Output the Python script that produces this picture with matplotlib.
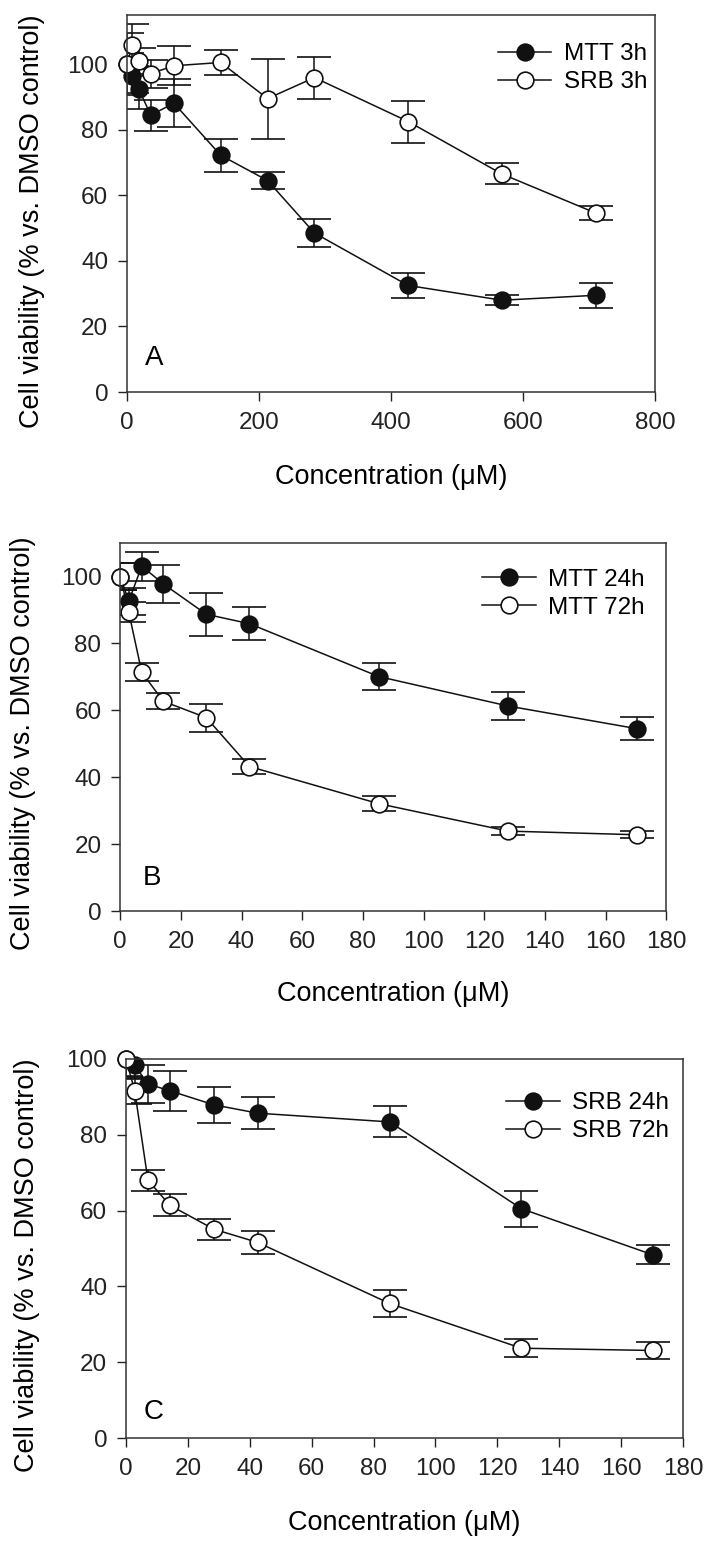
import numpy as np
import matplotlib
matplotlib.use("Agg")
import matplotlib.pyplot as plt

plt.rcParams['font.family'] = ['Liberation Sans', 'DejaVu Sans']

# Panel A: 3 h exposure
conc_a = [0, 8, 18, 36, 71, 142, 213, 284, 426, 568, 710]
mtt_3h = [100, 96.3, 92.4, 84.4, 88.1, 72.2, 64.5, 48.5, 32.5, 28.0, 29.5]
mtt_3h_err = [9.4, 5, 6, 4.8, 7.3, 5, 2.5, 4.3, 3.9, 1.5, 3.8]
srb_3h = [100, 105.8, 100.9, 97.1, 99.5, 100.5, 89.5, 95.9, 82.5, 66.5, 54.6]
srb_3h_err = [3.5, 6.5, 4, 4.3, 6, 3.8, 12.2, 6.4, 6.4, 3.2, 2]

# Panel B: MTT 24 h / 72 h
conc_b = [0, 2.84, 7.1, 14.2, 28.4, 42.6, 85.2, 127.8, 170.4]
mtt_24h = [100, 92.6, 103.1, 97.8, 88.7, 85.9, 70.1, 61.3, 54.5]
mtt_24h_err = [4, 4, 4.3, 5.7, 6.4, 5, 4.1, 4.3, 3.5]
mtt_72h = [100, 89.3, 71.4, 62.7, 57.8, 43.2, 32.1, 23.9, 22.8]
mtt_72h_err = [4, 3, 2.6, 2.4, 4.2, 2.3, 2.3, 1.3, 1]

# Panel C: SRB 24 h / 72 h
conc_c = [0, 2.84, 7.1, 14.2, 28.4, 42.6, 85.2, 127.8, 170.4]
srb_24h = [100, 98.3, 93.4, 91.6, 87.9, 85.7, 83.4, 60.5, 48.3]
srb_24h_err = [4.7, 3.5, 5, 5.2, 4.8, 4.2, 4.1, 4.7, 2.5]
srb_72h = [100, 91.5, 68.0, 61.4, 55.1, 51.6, 35.5, 23.7, 23.1]
srb_72h_err = [4.5, 3.5, 2.8, 2.9, 2.8, 3.0, 3.5, 2.3, 2.2]

fig = plt.figure(figsize=(7.07, 15.41), dpi=100)

panels = [
    # rect, x, filled, open, xlim, xticks, ylim, letter, letter pos, legend anchor, label y
    ([0.1796, 0.7456, 0.7469, 0.2447], conc_a, (mtt_3h, mtt_3h_err, "MTT 3h"),
     (srb_3h, srb_3h_err, "SRB 3h"), (0, 800), np.arange(0, 801, 200), (0, 115),
     "A", (0.051, 0.09), (0.985, 0.925), 0.454),
    ([0.1700, 0.4088, 0.7723, 0.2388], conc_b, (mtt_24h, mtt_24h_err, "MTT 24h"),
     (mtt_72h, mtt_72h_err, "MTT 72h"), (0, 180), np.arange(0, 181, 20), (0, 110),
     "B", (0.059, 0.09), (0.96, 0.93), 0.456),
    ([0.1782, 0.0668, 0.7878, 0.2460], conc_c, (srb_24h, srb_24h_err, "SRB 24h"),
     (srb_72h, srb_72h_err, "SRB 72h"), (0, 180), np.arange(0, 181, 20), (0, 100),
     "C", (0.049, 0.069), (0.975, 0.912), 0.456),
]

for rect, x, filled, hollow, xlim, xticks, ylim, letter, lpos, leg_anchor, ylab_y in panels:
    ax = fig.add_axes(rect)
    handles, names = [], []
    for (vals, errs, name), face in [(filled, '#111111'), (hollow, 'white')]:
        line, caps, bars = ax.errorbar(x, vals, yerr=errs, fmt='-o', color='#111111',
                                       mfc=face, mec='#111111', ms=12, mew=1.2,
                                       lw=1.1, elinewidth=1.1, capsize=12, capthick=1.1)
        line.set_clip_on(False)
        handles.append(line)
        names.append(name)

    ax.set_xlim(*xlim)
    ax.set_ylim(*ylim)
    ax.set_xticks(xticks)
    ax.set_yticks(np.arange(0, 101, 20))
    ax.tick_params(direction='out', length=6.5, width=1.0, labelsize=17.5,
                   colors='#222222', pad=7)
    ax.tick_params(axis='x', pad=8)
    for sp in ax.spines.values():
        sp.set_linewidth(1.1)
        sp.set_color('#333333')

    ax.set_xlabel("Concentration (\u03bcM)", fontsize=19.5)
    ax.xaxis.set_label_coords(0.5, -0.19)
    ax.set_ylabel("Cell viability (% vs. DMSO control)", fontsize=19.5)
    ax.yaxis.set_label_coords(-0.155, ylab_y)

    ax.text(lpos[0], lpos[1], letter, transform=ax.transAxes, fontsize=20,
            ha='center', va='center')

    ax.legend(handles, names, loc='upper right', bbox_to_anchor=leg_anchor,
              frameon=False, fontsize=17.5, handlelength=2.2, handletextpad=0.5,
              labelspacing=0.25, borderpad=0, borderaxespad=0)

plt.savefig("out.png", dpi=100)
